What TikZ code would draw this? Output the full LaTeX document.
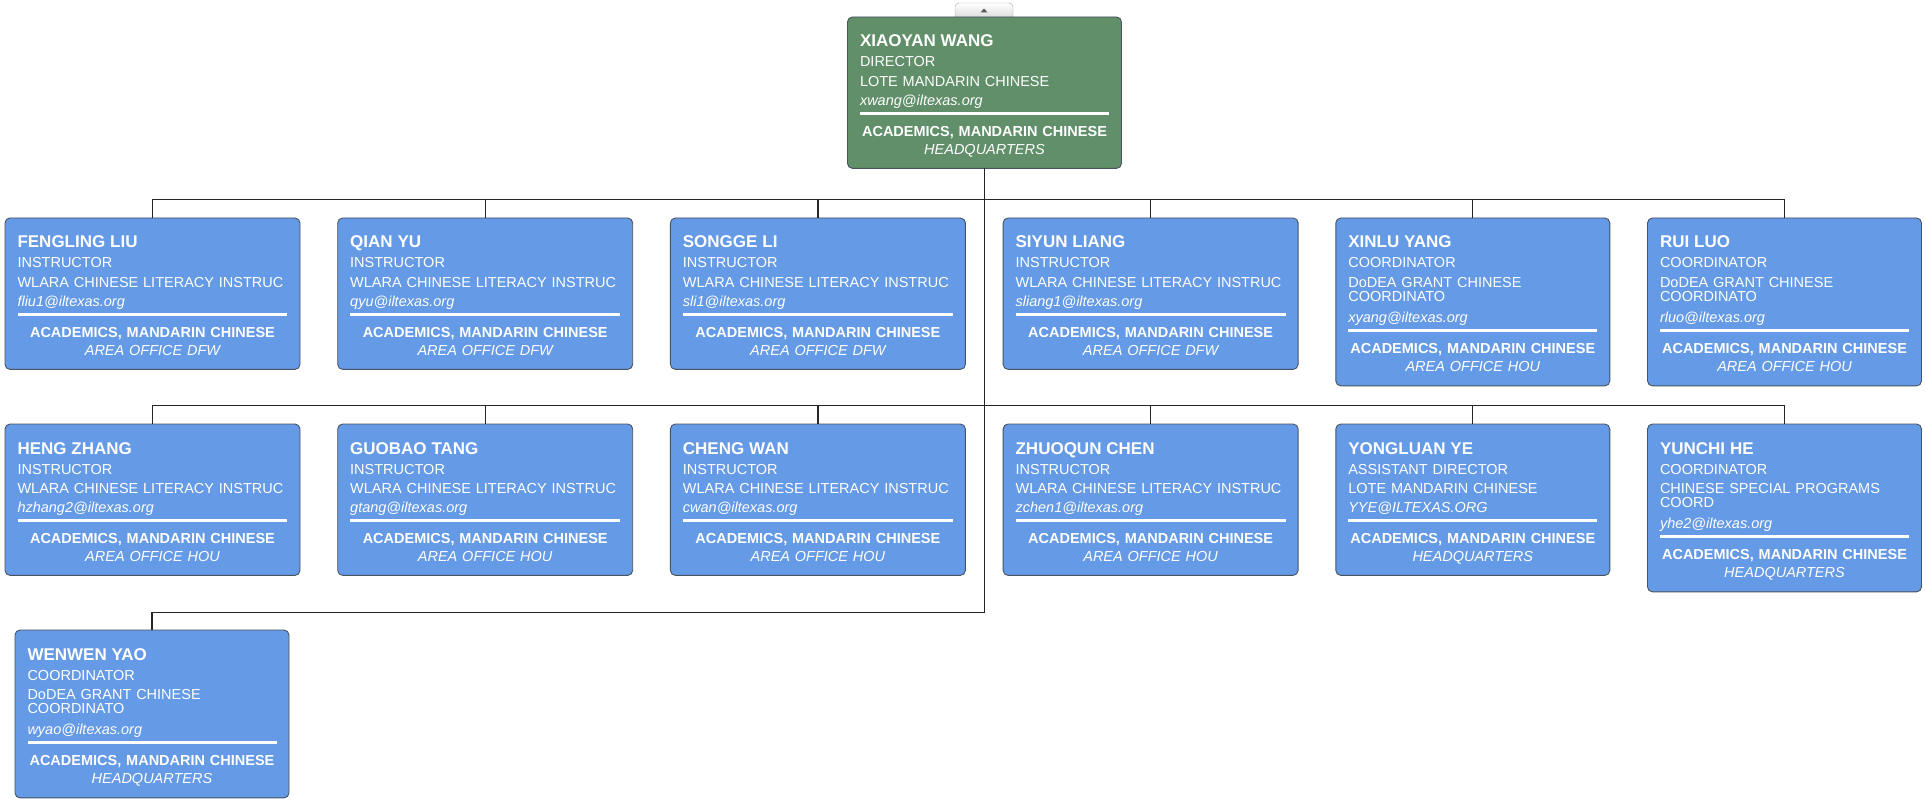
\documentclass[tikz,border=0pt]{standalone}
\usepackage{fontspec}
\setmainfont{Liberation Sans}
\usetikzlibrary{positioning}
\definecolor{staffblue}{RGB}{100,154,230}
\definecolor{bossgreen}{RGB}{96,143,105}
\definecolor{cardedge}{RGB}{72,82,96}
\newcommand{\namefont}{\fontsize{17}{17}\selectfont\bfseries}
\newcommand{\twolines}[2]{#1\\#2\vspace{2pt}}
\newcommand{\staffcard}[5]{%
  {\namefont\rule{0pt}{20pt}#1}\\[5.5pt]
  #2\\[4.7pt]
  #3\\[4.7pt]
  \textit{#4}\\[-5pt]
  \rule{\linewidth}{3pt}\\[7pt]
  \makebox[\linewidth]{\bfseries ACADEMICS, MANDARIN CHINESE}\\[3.5pt]
  \makebox[\linewidth]{\itshape #5}\rule[-4pt]{0pt}{4pt}}

\begin{document}
\begin{tikzpicture}[x=1pt,y=-1pt,
    card/.style={draw=cardedge,line width=0.9pt,fill=staffblue,rounded corners=5pt,
      text=white,align=left,inner xsep=12.5pt,inner ysep=10pt,outer sep=0pt,
      font=\fontsize{14.5}{14.5}\selectfont},
    wide/.style={card,text width=270pt},
    narrow/.style={card,text width=249pt},
    boss/.style={narrow,fill=bossgreen,anchor=north},
    nextto/.style={right=37.7pt of #1.north east,anchor=north west},
    toggle/.style={draw=black!35,rounded corners=4pt,top color=white,bottom color=black!15,
      minimum width=58pt,minimum height=16pt,inner sep=0pt},
    link/.style={draw=black!85,line width=1.2pt}]
  \useasboundingbox (0,0) rectangle (1925,799);

  % collapse tab and director
  \node[toggle] (collapse) at (984,11) {};
  \fill[black!65] (collapse.center) ++(-3.5,1.5) -- ++(7,0) -- ++(-3.5,-4) -- cycle;
  \node[boss] (xiaoyan) at (984.5,17)
    {\staffcard{XIAOYAN WANG}{DIRECTOR}{LOTE MANDARIN CHINESE}{xwang@iltexas.org}{HEADQUARTERS}};

  % first row
  \node[wide,anchor=north west] (fengling) at (5,218)
    {\staffcard{FENGLING LIU}{INSTRUCTOR}{WLARA CHINESE LITERACY INSTRUC}{fliu1@iltexas.org}{AREA OFFICE DFW}};
  \node[wide,nextto=fengling] (qianyu)
    {\staffcard{QIAN YU}{INSTRUCTOR}{WLARA CHINESE LITERACY INSTRUC}{qyu@iltexas.org}{AREA OFFICE DFW}};
  \node[wide,nextto=qianyu] (songge)
    {\staffcard{SONGGE LI}{INSTRUCTOR}{WLARA CHINESE LITERACY INSTRUC}{sli1@iltexas.org}{AREA OFFICE DFW}};
  \node[wide,nextto=songge] (siyun)
    {\staffcard{SIYUN LIANG}{INSTRUCTOR}{WLARA CHINESE LITERACY INSTRUC}{sliang1@iltexas.org}{AREA OFFICE DFW}};
  \node[narrow,nextto=siyun] (xinlu)
    {\staffcard{XINLU YANG}{COORDINATOR}{\twolines{DoDEA GRANT CHINESE}{COORDINATO}}{xyang@iltexas.org}{AREA OFFICE HOU}};
  \node[narrow,nextto=xinlu] (ruiluo)
    {\staffcard{RUI LUO}{COORDINATOR}{\twolines{DoDEA GRANT CHINESE}{COORDINATO}}{rluo@iltexas.org}{AREA OFFICE HOU}};

  % second row
  \node[wide,anchor=north west] (heng) at (5,424)
    {\staffcard{HENG ZHANG}{INSTRUCTOR}{WLARA CHINESE LITERACY INSTRUC}{hzhang2@iltexas.org}{AREA OFFICE HOU}};
  \node[wide,nextto=heng] (guobao)
    {\staffcard{GUOBAO TANG}{INSTRUCTOR}{WLARA CHINESE LITERACY INSTRUC}{gtang@iltexas.org}{AREA OFFICE HOU}};
  \node[wide,nextto=guobao] (chengwan)
    {\staffcard{CHENG WAN}{INSTRUCTOR}{WLARA CHINESE LITERACY INSTRUC}{cwan@iltexas.org}{AREA OFFICE HOU}};
  \node[wide,nextto=chengwan] (zhuoqun)
    {\staffcard{ZHUOQUN CHEN}{INSTRUCTOR}{WLARA CHINESE LITERACY INSTRUC}{zchen1@iltexas.org}{AREA OFFICE HOU}};
  \node[narrow,nextto=zhuoqun] (yongluan)
    {\staffcard{YONGLUAN YE}{ASSISTANT DIRECTOR}{LOTE MANDARIN CHINESE}{YYE@ILTEXAS.ORG}{HEADQUARTERS}};
  \node[narrow,nextto=yongluan] (yunchi)
    {\staffcard{YUNCHI HE}{COORDINATOR}{\twolines{CHINESE SPECIAL PROGRAMS}{COORD}}{yhe2@iltexas.org}{HEADQUARTERS}};

  % third row
  \node[narrow,anchor=north west] (wenwen) at (15,630)
    {\staffcard{WENWEN YAO}{COORDINATOR}{\twolines{DoDEA GRANT CHINESE}{COORDINATO}}{wyao@iltexas.org}{HEADQUARTERS}};

  % reporting lines
  \foreach \staff in {fengling,qianyu,songge,siyun,xinlu,ruiluo}
    \draw[link] (xiaoyan.south) -- ++(0,31) -| (\staff.north);
  \foreach \staff in {heng,guobao,chengwan,zhuoqun,yongluan,yunchi}
    \draw[link] (xiaoyan.south) -- ++(0,237) -| (\staff.north);
  \draw[link] (xiaoyan.south) -- ++(0,444) -| (wenwen.north);
\end{tikzpicture}
\end{document}
